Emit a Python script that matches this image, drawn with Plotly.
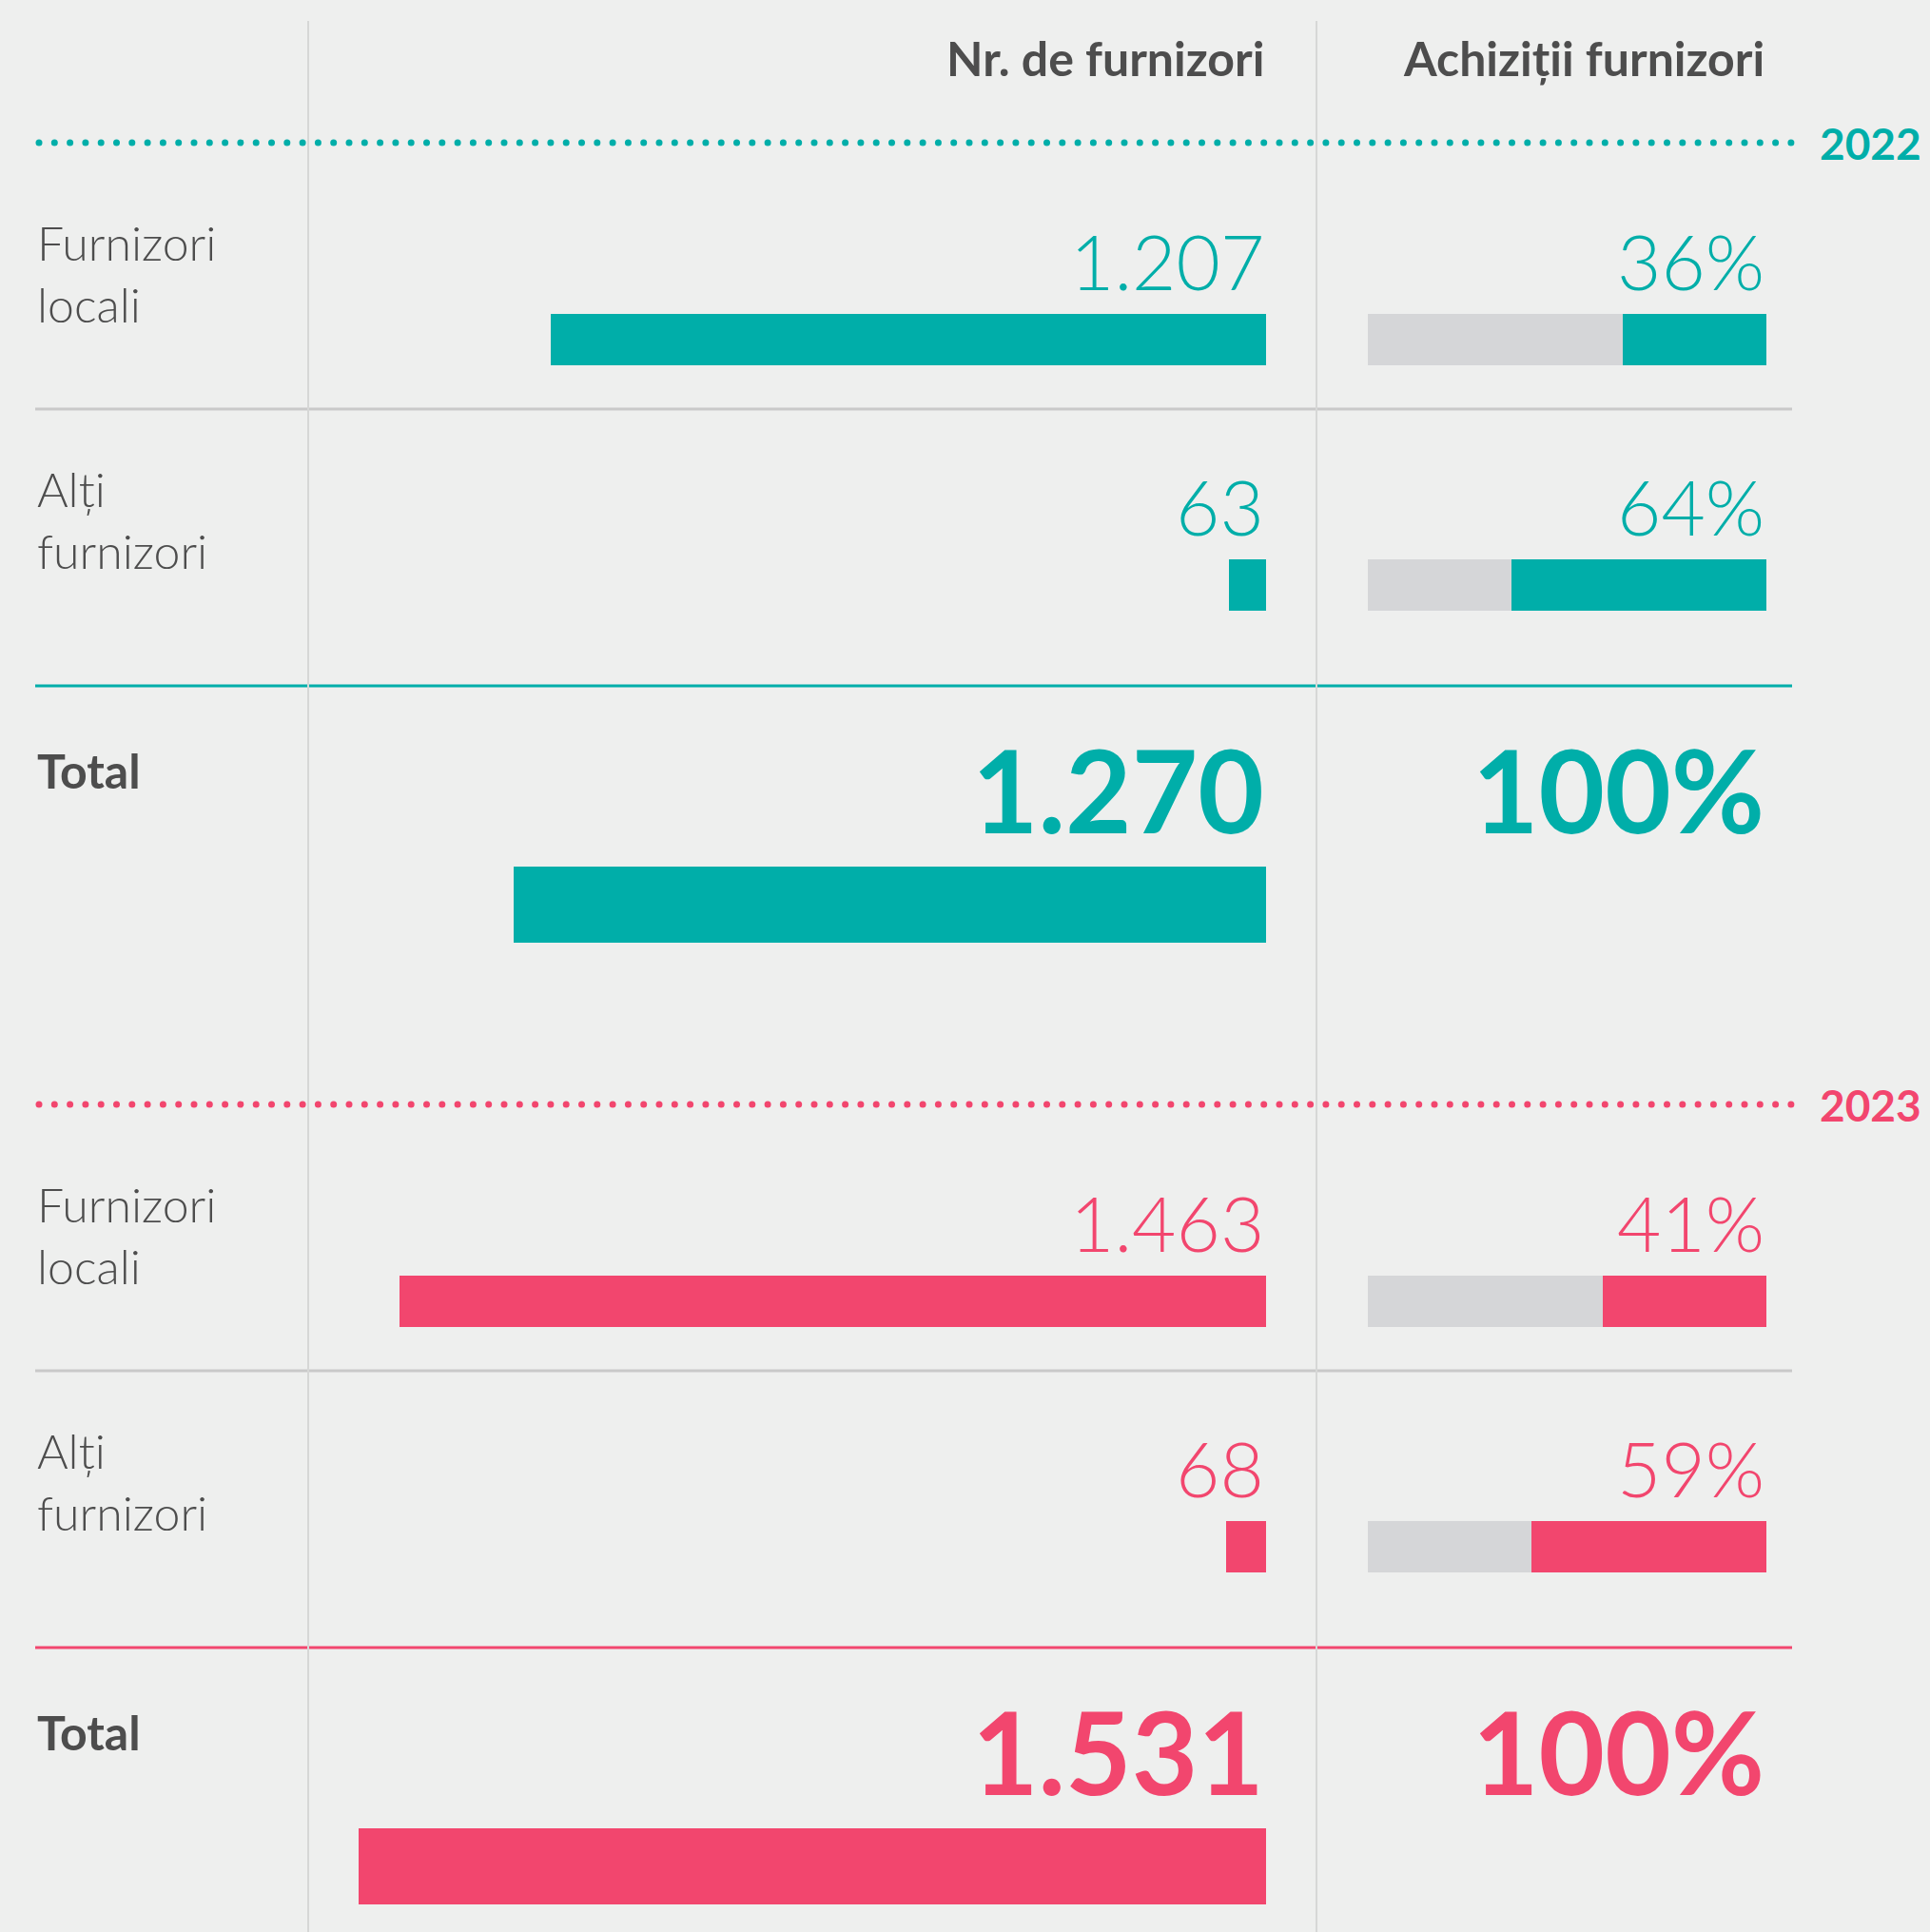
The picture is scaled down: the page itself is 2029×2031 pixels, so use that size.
import numpy as np
import plotly.graph_objects as go

# ---------------- data ----------------
years = ["2022", "2023"]
categories = ["Furnizori<br>locali", "Alți<br>furnizori", "Total"]
headers = ["Nr. de furnizori", "Achiziții furnizori"]
counts_2022 = [1207, 63, 1270]
counts_2023 = [1463, 68, 1531]
share_2022 = [36, 64, 100]
share_2023 = [41, 59, 100]
count_labels_2022 = ["1.207", "63", "1.270"]
count_labels_2023 = ["1.463", "68", "1.531"]
share_labels_2022 = ["36%", "64%", "100%"]
share_labels_2023 = ["41%", "59%", "100%"]

counts = [counts_2022, counts_2023]
shares = [share_2022, share_2023]
count_labels = [count_labels_2022, count_labels_2023]
share_labels = [share_labels_2022, share_labels_2023]

# ---------------- style / layout ----------------
W, H = 2029, 2031
BG = "#EEEFEE"
TXT = "#4D4D4D"
GRAYBAR = "#D5D6D8"
year_colors = ["#00AEA9", "#F2466E"]
FONT = "Lato"

PX_PER_UNIT = 0.623
COUNT_RIGHT = 1331
PCT_LEFT, PCT_RIGHT = 1438, 1857
LEFT = 37
LINE_RIGHT = 1884
VLINES = [324, 1384]

SECTION_OFF = [0, 1011]
DOT_Y = 150
BAR_TOP = [330, 588, 911]
BAR_H = [54, 54, 80]
VAL_Y = [274, 532, 830]
LAB_Y = [287, 546, 810]
SEP_Y = [430, 721]

fig = go.Figure()

# dotted year rules (decorative, pixel axis)
for k, yr in enumerate(years):
    off = SECTION_OFF[k]
    col = year_colors[k]
    dots_x = np.arange(41, 1884, 16.3)
    fig.add_trace(go.Scatter(
        x=dots_x, y=[DOT_Y + off] * len(dots_x), mode="markers",
        marker=dict(size=7, color=col), xaxis="x", yaxis="y",
        hoverinfo="skip", showlegend=False))

for k, yr in enumerate(years):
    off = SECTION_OFF[k]
    col = year_colors[k]
    centers = [BAR_TOP[i] + BAR_H[i] / 2 + off for i in range(3)]
    # supplier counts
    fig.add_trace(go.Bar(
        orientation="h", x=counts[k], y=centers, width=BAR_H,
        marker=dict(color=col, line=dict(width=0)),
        xaxis="x2", yaxis="y", showlegend=False, hoverinfo="skip"))
    # share background + share
    fig.add_trace(go.Bar(
        orientation="h", x=[100, 100], y=centers[:2], width=BAR_H[:2],
        marker=dict(color=GRAYBAR, line=dict(width=0)),
        xaxis="x3", yaxis="y", showlegend=False, hoverinfo="skip"))
    fig.add_trace(go.Bar(
        orientation="h", x=shares[k][:2], y=centers[:2], width=BAR_H[:2],
        marker=dict(color=col, line=dict(width=0)),
        xaxis="x3", yaxis="y", showlegend=False, hoverinfo="skip"))

annotations = []
shapes = []

# headers
annotations.append(dict(text=headers[0], xref="x2", x=0, xanchor="right",
                        yref="y", y=61, yanchor="middle", showarrow=False,
                        font=dict(family=FONT, size=50, color=TXT, weight=700)))
annotations.append(dict(text=headers[1], xref="x3", x=0, xanchor="right",
                        yref="y", y=61, yanchor="middle", showarrow=False,
                        font=dict(family=FONT, size=50, color=TXT, weight=700)))

for k, yr in enumerate(years):
    off = SECTION_OFF[k]
    col = year_colors[k]
    annotations.append(dict(text=f"<b>{yr}</b>", xref="paper", x=1911 / W,
                            xanchor="left", yref="y", y=DOT_Y + off,
                            yanchor="middle", showarrow=False,
                            font=dict(family=FONT, size=46, color=col, weight=700)))
    for i in range(3):
        total = i == 2
        annotations.append(dict(
            text=categories[i], xref="paper", x=LEFT / W, xanchor="left",
            yref="y", y=LAB_Y[i] + off, yanchor="middle", align="left",
            showarrow=False,
            font=dict(family=FONT, size=50, color=TXT,
                      weight=700 if total else 300)))
        vsize = 120 if total else 80
        vw = 700 if total else 300
        annotations.append(dict(
            text=count_labels[k][i], xref="x2", x=0, xanchor="right",
            yref="y", y=VAL_Y[i] + off, yanchor="middle", showarrow=False,
            font=dict(family=FONT, size=vsize, color=col, weight=vw)))
        annotations.append(dict(
            text=share_labels[k][i], xref="x3", x=0, xanchor="right",
            yref="y", y=VAL_Y[i] + off, yanchor="middle", showarrow=False,
            font=dict(family=FONT, size=vsize, color=col, weight=vw)))
    # separators
    shapes.append(dict(type="line", xref="paper", x0=LEFT / W, x1=LINE_RIGHT / W,
                       yref="y", y0=SEP_Y[0] + off, y1=SEP_Y[0] + off,
                       line=dict(color="#C9C9C9", width=3), layer="below"))
    shapes.append(dict(type="line", xref="paper", x0=LEFT / W, x1=LINE_RIGHT / W,
                       yref="y", y0=SEP_Y[1] + off, y1=SEP_Y[1] + off,
                       line=dict(color=col, width=3), layer="below"))

for vx in VLINES:
    shapes.append(dict(type="line", xref="paper", x0=vx / W, x1=vx / W,
                       yref="y", y0=22, y1=H, line=dict(color="#D6D7D6", width=2),
                       layer="below"))

hidden = dict(visible=False, showgrid=False, zeroline=False, fixedrange=True)
fig.update_layout(
    width=W, height=H, margin=dict(l=0, r=0, t=0, b=0),
    paper_bgcolor=BG, plot_bgcolor="rgba(0,0,0,0)",
    barmode="overlay", bargap=0,
    xaxis=dict(domain=[0, 1], range=[0, W], anchor="y", **hidden),
    xaxis2=dict(domain=[0, COUNT_RIGHT / W],
                range=[COUNT_RIGHT / PX_PER_UNIT, 0], anchor="y", **hidden),
    xaxis3=dict(domain=[PCT_LEFT / W, PCT_RIGHT / W], range=[100, 0],
                anchor="y", **hidden),
    yaxis=dict(domain=[0, 1], range=[H, 0], **hidden),
    annotations=annotations, shapes=shapes,
)

fig.write_html(
    "out.html",
    config={"displayModeBar": False},
    post_script="document.body.style.margin='0';document.body.style.overflow='hidden';",
)
